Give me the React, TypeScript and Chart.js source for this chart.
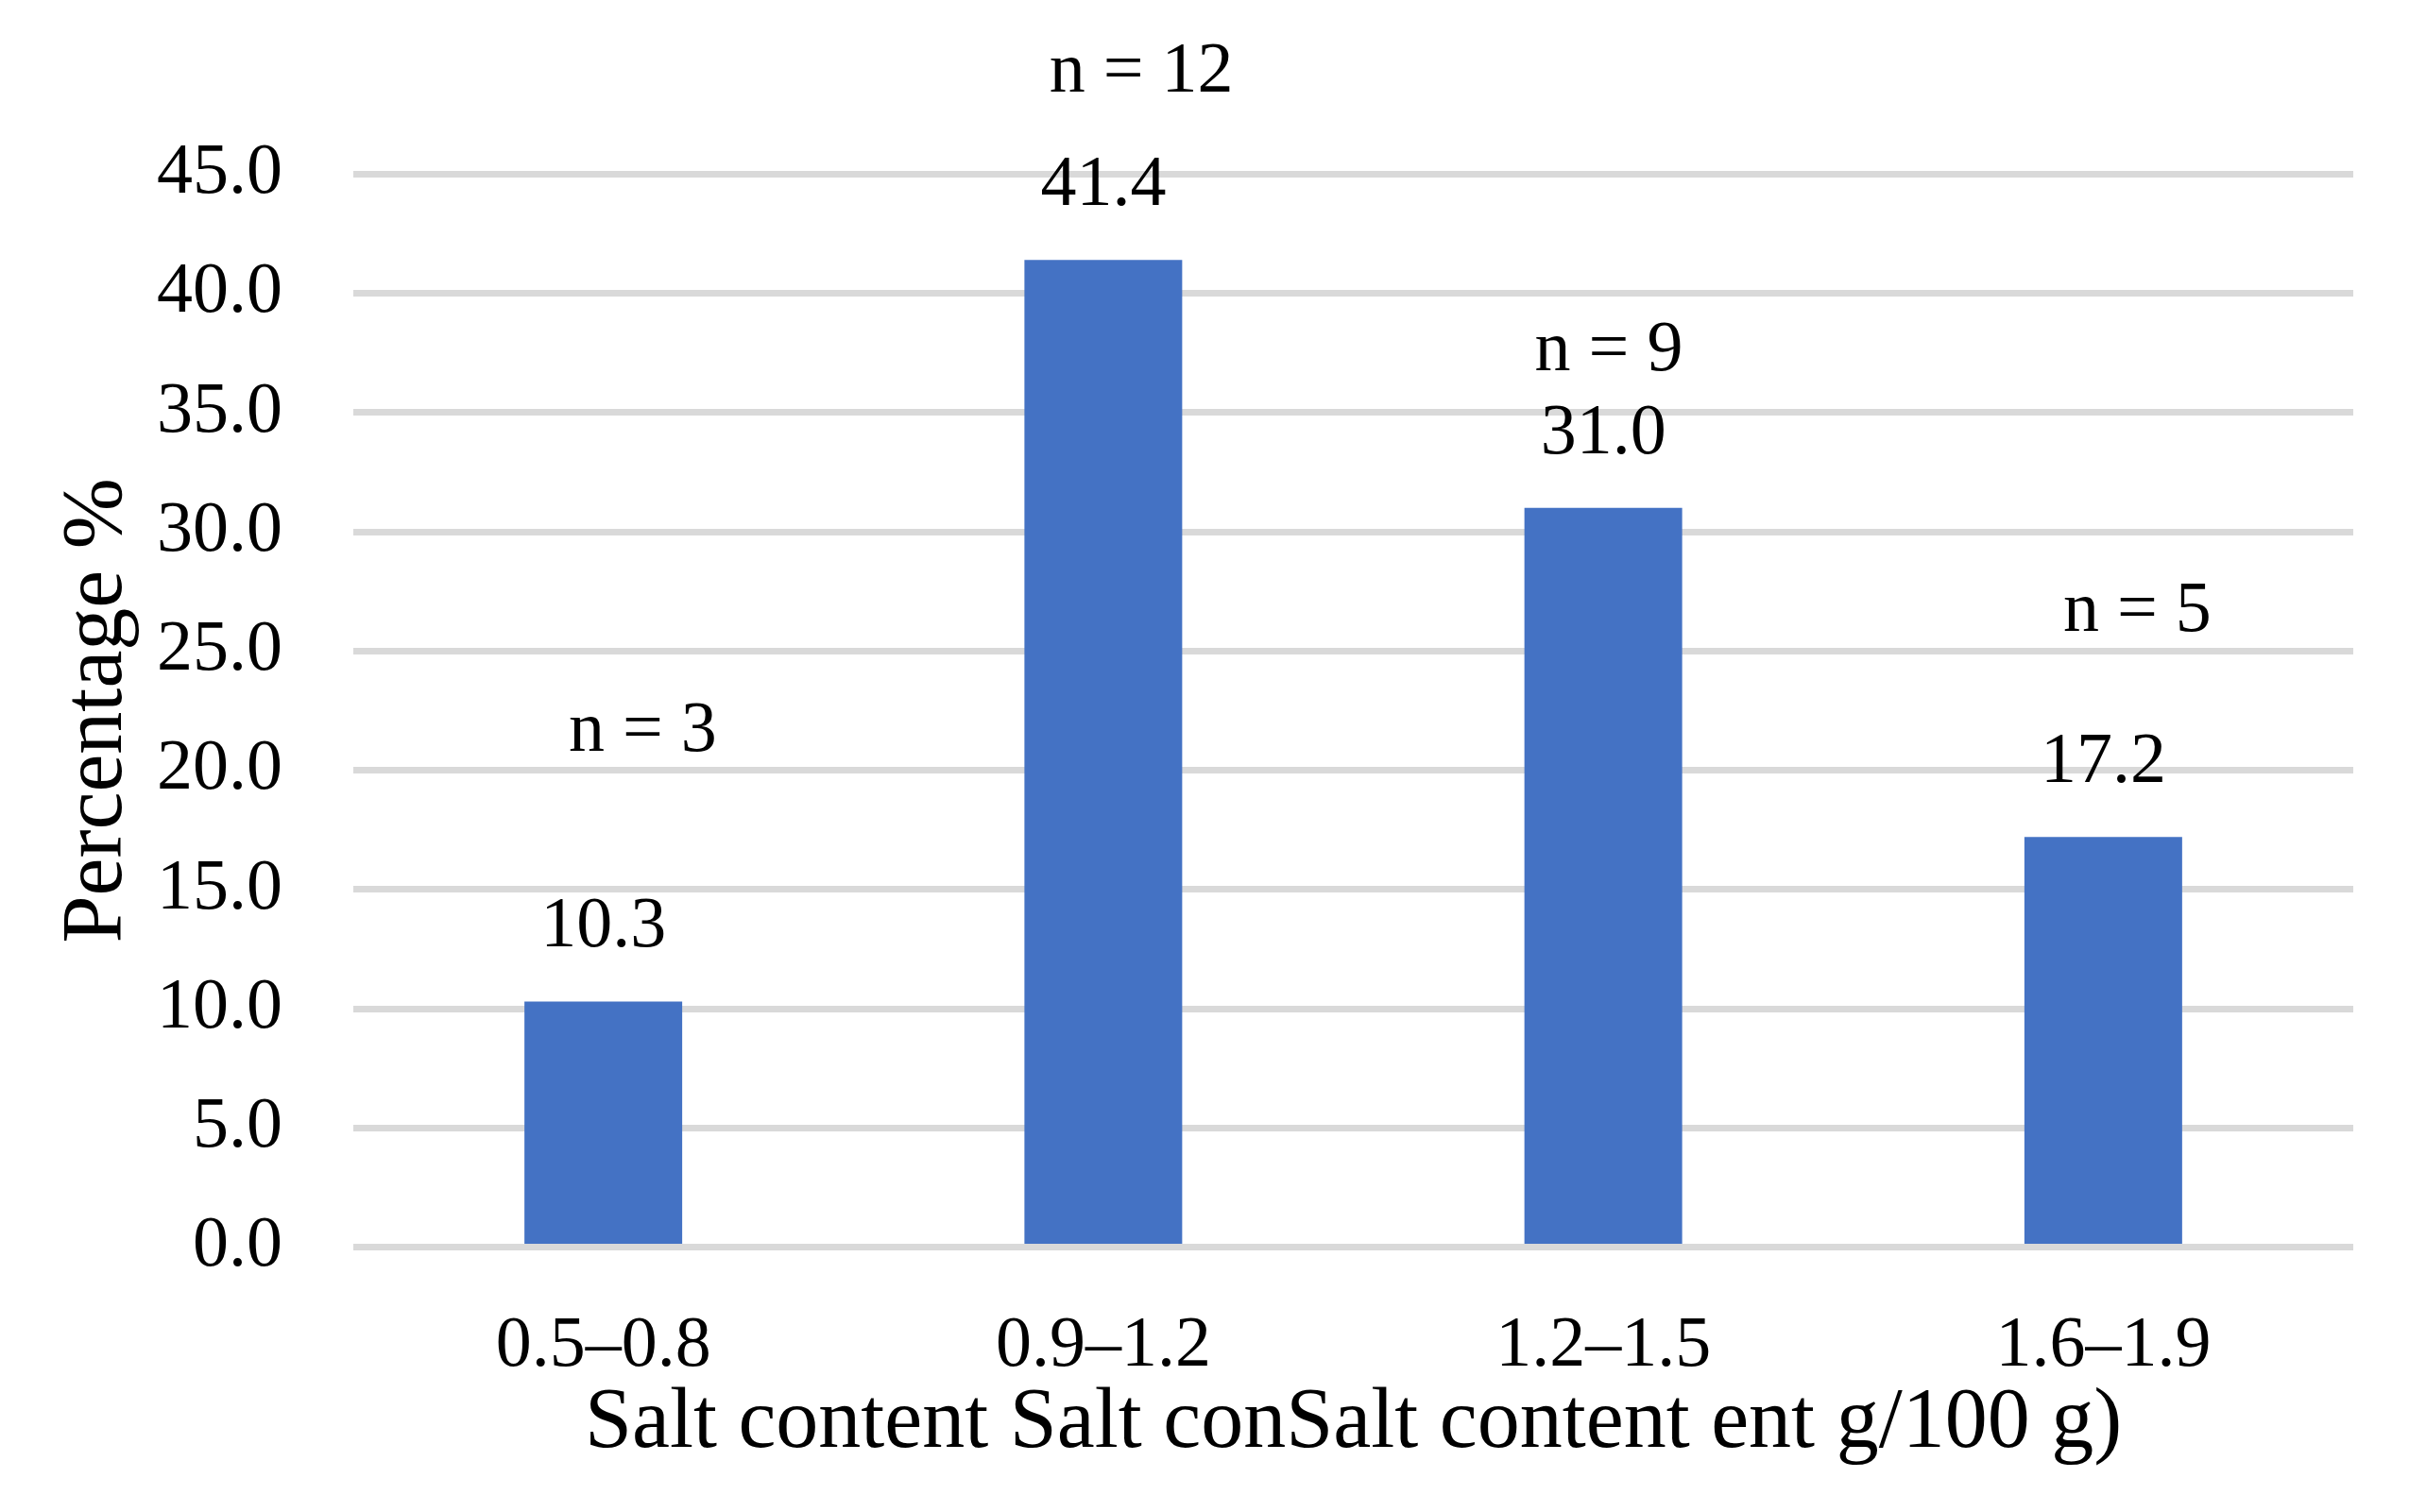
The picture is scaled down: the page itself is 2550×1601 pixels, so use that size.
import React, { useEffect, useRef } from "react";
import { Chart, registerables } from "chart.js";

Chart.register(...registerables);

const categories = ["0.5–0.8", "0.9–1.2", "1.2–1.5", "1.6–1.9"];
const percentages = [10.3, 41.4, 31.0, 17.2];
const counts = [3, 12, 9, 5];
const yTicks = [0, 5, 10, 15, 20, 25, 30, 35, 40, 45];

// placement of the hand-placed "n = x" annotations (value-axis units, category offsets)
const nLabelY = [20.81, 48.45, 36.77, 25.84];
const nLabelDx = [0.079, 0.076, 0.011, 0.068];

const FONT = '"Liberation Serif", "Times New Roman", serif';
const W = 2550;
const H = 1601;

const labelPlugin = {
  id: "barLabels",
  afterDatasetsDraw(chart: any) {
    const ctx = chart.ctx;
    const xs = chart.scales.x;
    const ys = chart.scales.y;
    const meta = chart.getDatasetMeta(0);
    const catW = xs.width / categories.length;
    ctx.save();
    ctx.font = `76px ${FONT}`;
    ctx.fillStyle = "#000000";
    ctx.textAlign = "center";
    ctx.textBaseline = "alphabetic";
    meta.data.forEach((bar: any, i: number) => {
      ctx.fillText(percentages[i].toFixed(1), bar.x, bar.y - 58);
      const nx = bar.x + nLabelDx[i] * catW;
      const ny = ys.getPixelForValue(nLabelY[i]);
      ctx.fillText(`n = ${counts[i]}`, nx, ny);
    });
    ctx.restore();
  },
};

export default function App() {
  const ref = useRef<HTMLCanvasElement | null>(null);

  useEffect(() => {
    document.body.style.margin = "0";
    const canvas = ref.current;
    if (!canvas) return;
    const chart = new Chart(canvas, {
      type: "bar",
      data: {
        labels: categories,
        datasets: [
          {
            data: percentages,
            backgroundColor: "#4472C4",
            borderWidth: 0,
            barPercentage: 0.3155,
            categoryPercentage: 1,
          },
        ],
      },
      options: {
        responsive: false,
        animation: false,
        devicePixelRatio: 1,
        layout: { padding: { top: 184.25, right: 59, bottom: 0, left: 0 } },
        plugins: {
          legend: { display: false },
          tooltip: { enabled: false },
        },
        scales: {
          x: {
            grid: { display: false, drawTicks: false, tickLength: 0 },
            border: { display: false },
            ticks: {
              color: "#000000",
              font: { family: FONT, size: 76, lineHeight: 1 },
              padding: 68,
              maxRotation: 0,
              autoSkip: false,
            },
            title: {
              display: true,
              text: "Salt content Salt conSalt content ent g/100 g)",
              color: "#000000",
              font: { family: FONT, size: 90, lineHeight: 1 },
              padding: { top: 0, bottom: 48 },
            },
            afterFit(scale: any) {
              scale.height = H - 1320.5;
            },
          },
          y: {
            min: 0,
            max: 45,
            afterBuildTicks(scale: any) {
              scale.ticks = yTicks.map((v) => ({ value: v }));
            },
            grid: {
              color: "#D9D9D9",
              lineWidth: 7,
              drawTicks: false,
              tickLength: 0,
            },
            border: { display: false },
            ticks: {
              color: "#000000",
              font: { family: FONT, size: 76, lineHeight: 1 },
              padding: 75,
              callback: (v: any) => Number(v).toFixed(1),
            },
            title: {
              display: true,
              text: "Percentage %",
              color: "#000000",
              font: { family: FONT, size: 90, lineHeight: 1 },
              padding: { top: 59, bottom: 0 },
            },
            afterFit(scale: any) {
              scale.width = 374;
            },
          },
        },
      },
      plugins: [labelPlugin],
    });
    return () => chart.destroy();
  }, []);

  return (
    <div style={{ position: "absolute", left: 0, top: 0, width: W, height: H, background: "#ffffff" }}>
      <canvas ref={ref} width={W} height={H} style={{ width: W, height: H, display: "block" }} />
    </div>
  );
}
